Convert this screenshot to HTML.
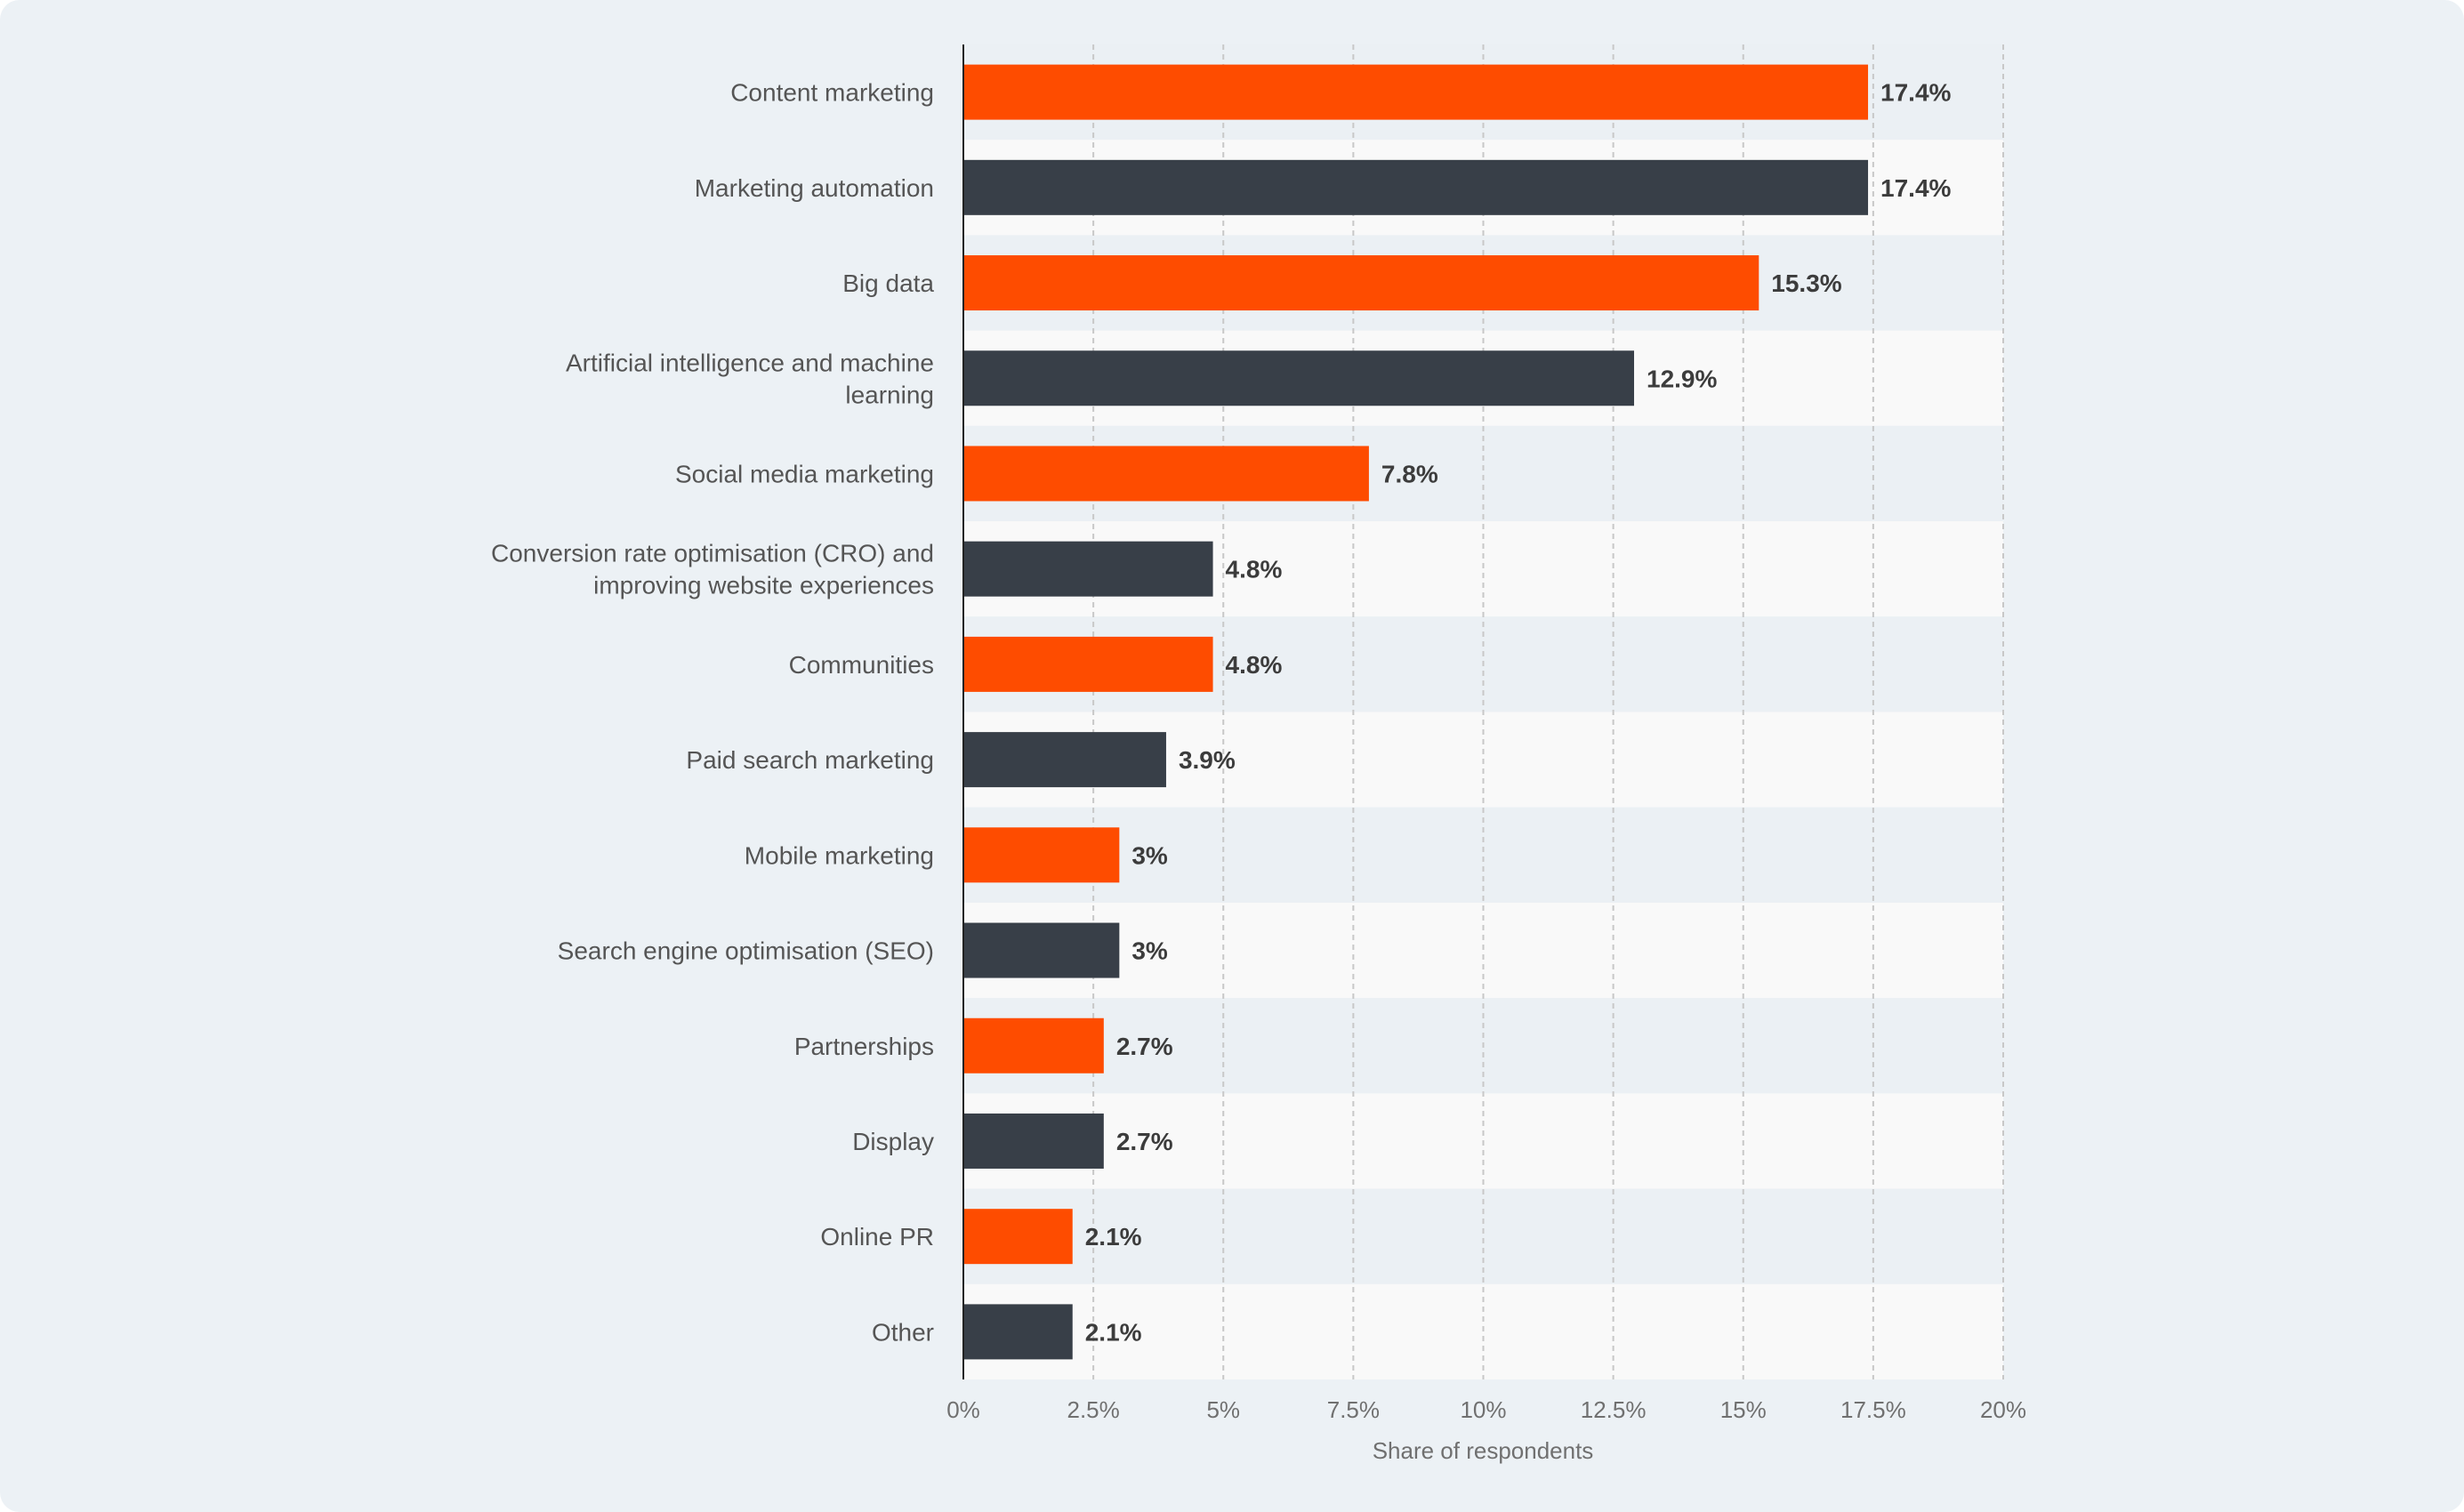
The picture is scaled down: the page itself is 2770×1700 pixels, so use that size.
<!DOCTYPE html>
<html><head><meta charset="utf-8"><style>
html,body{margin:0;padding:0;background:#fff;}
svg{display:block;font-family:"Liberation Sans","DejaVu Sans",sans-serif;}
</style></head><body>
<svg id="chart" width="2770" height="1700" viewBox="0 0 2770 1700">
<rect x="0" y="0" width="2770" height="1700" rx="22" fill="#ecf1f5"/>
<g id="bands"></g><g id="grid"></g><g id="bars"></g><g id="labels"></g><g id="ticks"></g>
<line x1="1083" y1="50" x2="1083" y2="1551" stroke="#222" stroke-width="2"/>
<text x="1667" y="1640" font-size="26" fill="#707070" text-anchor="middle">Share of respondents</text>
</svg>
<script>
const categories=["Content marketing","Marketing automation","Big data","Artificial intelligence and machine|learning","Social media marketing","Conversion rate optimisation (CRO) and|improving website experiences","Communities","Paid search marketing","Mobile marketing","Search engine optimisation (SEO)","Partnerships","Display","Online PR","Other"];
const values=[17.4,17.4,15.3,12.9,7.8,4.8,4.8,3.9,3,3,2.7,2.7,2.1,2.1];
const valueLabels=["17.4%","17.4%","15.3%","12.9%","7.8%","4.8%","4.8%","3.9%","3%","3%","2.7%","2.7%","2.1%","2.1%"];
const tickValues=[0,2.5,5,7.5,10,12.5,15,17.5,20];
const tickLabels=["0%","2.5%","5%","7.5%","10%","12.5%","15%","17.5%","20%"];
const NS="http://www.w3.org/2000/svg";
const x0=1083,x1=2252,yTop=50,yBot=1551,xMax=20;
const rowH=(yBot-yTop)/categories.length;
const xs=v=>x0+(v/xMax)*(x1-x0);
const yc=i=>yTop+rowH*(i+0.5);
function mk(tag,attrs,parent){const e=document.createElementNS(NS,tag);for(const k in attrs)e.setAttribute(k,attrs[k]);document.getElementById(parent).appendChild(e);return e;}
categories.forEach((c,i)=>{
  const b=mk('rect',{x:x0,y:yTop+rowH*i,width:x1-x0,height:rowH,fill:i%2?'#f9f9f9':'#ebf0f4'},'bands');
  
  
});
tickValues.forEach((t,i)=>{
  if(t>0){const g=mk('line',{x1:xs(t),x2:xs(t),y1:yTop,y2:yBot,stroke:'#c8c8c8','stroke-width':2,'stroke-dasharray':'6,5'},'grid');
  
  }
  const tl=mk('text',{x:xs(t),y:1594,'font-size':26,fill:'#707070','text-anchor':'middle'},'ticks');
  tl.textContent=tickLabels[i];
  
  
});
values.forEach((v,i)=>{
  const r=mk('rect',{x:x0,y:yc(i)-31,width:xs(v)-x0,height:62,fill:i%2?'#383f48':'#fe4c00'},'bars');
  
  
  const t=mk('text',{x:xs(v)+14,y:yc(i)+10,'font-size':28,'font-weight':'bold',fill:'#3c3c3c'},'labels');
  t.textContent=valueLabels[i];
  
  
  const lines=categories[i].split('|');
  lines.forEach((ln,j)=>{
    const off=lines.length===1?10:(j===0?-8:28);
    const l=mk('text',{x:1050,y:yc(i)+off,'font-size':28,fill:'#555','text-anchor':'end'},'labels');
    l.textContent=ln;
    
    
  });
});
</script>
</body></html>
